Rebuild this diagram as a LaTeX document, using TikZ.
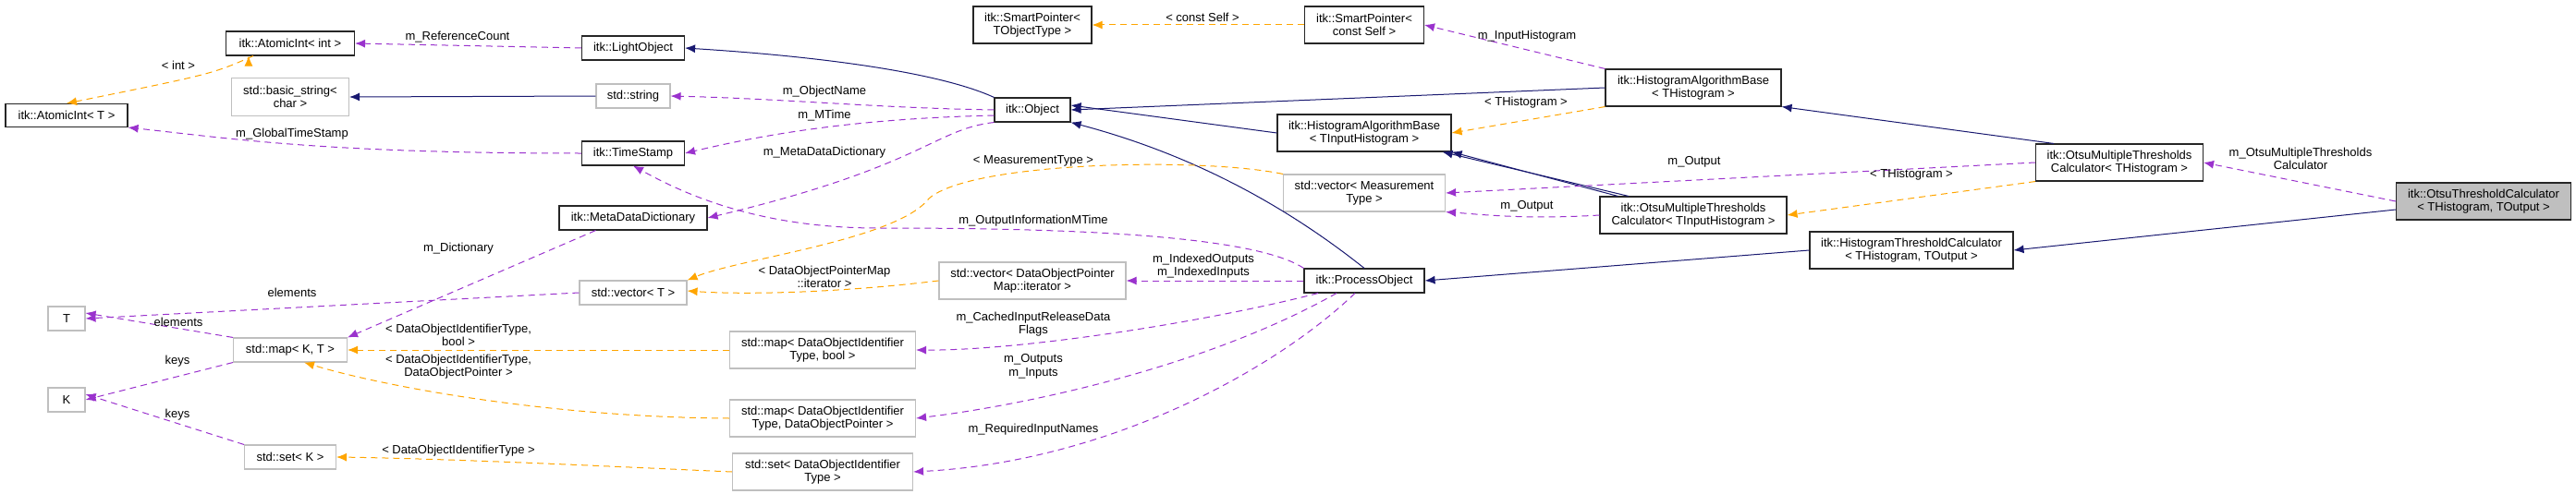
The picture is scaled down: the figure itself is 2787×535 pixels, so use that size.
\documentclass[tikz,border=0pt]{standalone}
\usepackage{fontspec}
\setmainfont{Liberation Sans}
\usetikzlibrary{arrows.meta}
\definecolor{inhc}{HTML}{191970}
\definecolor{usec}{HTML}{9A32CD}
\definecolor{tplc}{HTML}{FFA500}
\definecolor{grayb}{HTML}{BFBFBF}
\begin{document}
\begin{tikzpicture}[x=1pt,y=-1pt,
  font=\fontsize{13}{14.5}\selectfont,
  box/.style={draw=black!85,line width=1.1pt,fill=white,align=center,inner sep=0pt},
  sbox/.style={draw=grayb,line width=1.1pt,fill=white,align=center,inner sep=0pt},
  inh/.style={draw=inhc,line width=1pt,-{Latex[length=11pt,width=9pt]}},
  use/.style={draw=usec,line width=1pt,dash pattern=on 7pt off 5pt,-{Latex[length=11pt,width=9pt]}},
  tpl/.style={draw=tplc,line width=1pt,dash pattern=on 7pt off 5pt,-{Latex[length=11pt,width=9pt]}},
  lbl/.style={align=center,fill=none,inner sep=1pt}]
\useasboundingbox (0,0) rectangle (2787,535);
% nodes
\node[box,minimum width=132,minimum height=25] (ait) at (72,125) {itk::AtomicInt< T >};
\node[box,minimum width=139,minimum height=26] (aii) at (314,47) {itk::AtomicInt< int >};
\node[sbox,minimum width=127,minimum height=41] (bs) at (314,105) {std::basic\_string<\\char >};
\node[sbox,minimum width=40,minimum height=26] (T) at (72,345) {T};
\node[sbox,minimum width=40,minimum height=26] (K) at (72,433) {K};
\node[sbox,minimum width=123,minimum height=26] (map) at (314,379) {std::map< K, T >};
\node[sbox,minimum width=99,minimum height=26] (set) at (314,495) {std::set< K >};
\node[box,minimum width=111,minimum height=26] (lo) at (685,52) {itk::LightObject};
\node[sbox,minimum width=80,minimum height=26] (str) at (685,104) {std::string};
\node[box,minimum width=111,minimum height=26] (ts) at (685,166) {itk::TimeStamp};
\node[box,minimum width=160,minimum height=26] (mdd) at (685,236) {itk::MetaDataDictionary};
\node[sbox,minimum width=116,minimum height=26] (vt) at (685,317) {std::vector< T >};
\node[sbox,minimum width=201,minimum height=40] (mdb) at (890,379) {std::map< DataObjectIdentifier\\Type, bool >};
\node[sbox,minimum width=201,minimum height=40] (mdp) at (890,453) {std::map< DataObjectIdentifier\\Type, DataObjectPointer >};
\node[sbox,minimum width=195,minimum height=40] (sd) at (890,511) {std::set< DataObjectIdentifier\\Type >};
\node[box,minimum width=128,minimum height=40] (spt) at (1117,27) {itk::SmartPointer<\\TObjectType >};
\node[box,minimum width=82,minimum height=26] (obj) at (1117,119) {itk::Object};
\node[sbox,minimum width=202,minimum height=40] (vdi) at (1117,304) {std::vector< DataObjectPointer\\Map::iterator >};
\node[box,minimum width=129,minimum height=40] (sps) at (1476,27) {itk::SmartPointer<\\const Self >};
\node[box,minimum width=188,minimum height=40] (habi) at (1476,144) {itk::HistogramAlgorithmBase\\< TInputHistogram >};
\node[sbox,minimum width=175,minimum height=40] (vm) at (1476,209) {std::vector< Measurement\\Type >};
\node[box,minimum width=130,minimum height=26] (po) at (1476,304) {itk::ProcessObject};
\node[box,minimum width=190,minimum height=40] (habh) at (1832,95) {itk::HistogramAlgorithmBase\\< THistogram >};
\node[box,minimum width=202,minimum height=40] (omti) at (1832,233) {itk::OtsuMultipleThresholds\\Calculator< TInputHistogram >};
\node[box,minimum width=220,minimum height=40] (htc) at (2068,271) {itk::HistogramThresholdCalculator\\< THistogram, TOutput >};
\node[box,minimum width=181,minimum height=40] (omth) at (2293,176) {itk::OtsuMultipleThresholds\\Calculator< THistogram >};
\node[box,fill=grayb,minimum width=189,minimum height=40] (otc) at (2687,218) {itk::OtsuThresholdCalculator\\< THistogram, TOutput >};
% edges
\draw[use] (lo.west) -- (aii.east);
\node[lbl] at (495,40) {m\_ReferenceCount};
\draw[tpl] (aii.south west) ++(25,0) coordinate (a1);
\draw[tpl] (aii.south) ++(-40,0) .. controls (230,80) .. (ait.north);
\node[lbl] at (193,71) {< int >};
\draw[inh] (str.west) -- (bs.east);
\draw[use] (ts.west) .. controls (350,166) and (250,150) .. (ait.south east);
\node[lbl] at (316,145) {m\_GlobalTimeStamp};
\draw[inh] (obj.north west) .. controls (1020,80) and (900,62) .. (lo.east);
\draw[use] (obj.west) .. controls (950,117) and (850,107) .. (str.east);
\node[lbl] at (892,99) {m\_ObjectName};
\draw[use] (obj.west) ++(0,6) .. controls (950,128) and (850,140) .. (ts.east);
\node[lbl] at (892,125) {m\_MTime};
\draw[use] (obj.south west) .. controls (1010,140) and (1000,180) .. (mdd.east);
\node[lbl] at (892,165) {m\_MetaDataDictionary};
\draw[inh] (habh.west) -- (obj.east);
\draw[inh] (habi.west) -- ([yshift=5]obj.east);
\draw[inh] (po.north) .. controls (1400,230) and (1300,170) .. (obj.south east);
\draw[tpl] (sps.west) -- (spt.east);
\node[lbl] at (1301,19) {< const Self >};
\draw[use] (habh.north west) -- (sps.east);
\node[lbl] at (1652,39) {m\_InputHistogram};
\draw[tpl] (habh.south west) -- (habi.east);
\node[lbl] at (1651,111) {< THistogram >};
\draw[inh] (omti.north west) ++(20,0) -- (habi.south east);
\draw[inh] (omti.north) ++(-70,0) -- ([xshift=-10]habi.south east);
\draw[use] (omti.west) .. controls (1650,238) and (1600,232) .. (vm.south east);
\node[lbl] at (1652,223) {m\_Output};
\draw[use] (omth.west) -- ([yshift=0]vm.east);
\node[lbl] at (1833,175) {m\_Output};
\draw[tpl] (omth.south west) -- (omti.east);
\node[lbl] at (2068,189) {< THistogram >};
\draw[inh] (omth.north west) ++(20,0) -- (habh.south east);
\draw[use] (otc.west) -- (omth.east);
\node[lbl] at (2489,172) {m\_OtsuMultipleThresholds\\Calculator};
\draw[inh] (otc.west) ++(0,9) -- (htc.east);
\draw[inh] (htc.west) -- (po.east);
\draw[tpl] (vm.north west) .. controls (1300,170) and (1050,175) .. (1005,215) .. controls (970,260) and (800,280) .. (vt.north east);
\node[lbl] at (1118,174) {< MeasurementType >};
\draw[use] (po.north west) .. controls (1350,250) and (1100,247) .. (950,247) .. controls (820,247) and (740,210) .. (ts.south);
\node[lbl] at (1118,239) {m\_OutputInformationMTime};
\draw[use] (mdd.south west) ++(40,0) -- (map.north east);
\node[lbl] at (496,269) {m\_Dictionary};
\draw[use] (vt.west) -- (T.east);
\node[lbl] at (316,317) {elements};
\draw[use] (map.north west) -- ([yshift=6]T.east);
\node[lbl] at (193,349) {elements};
\draw[use] (map.south west) -- (K.east);
\node[lbl] at (192,391) {keys};
\draw[use] (set.north west) -- ([yshift=6]K.east);
\node[lbl] at (192,449) {keys};
\draw[tpl] (vdi.west) .. controls (900,318) and (800,319) .. ([yshift=2]vt.east);
\node[lbl] at (892,300) {< DataObjectPointerMap\\::iterator >};
\draw[use] (po.west) -- (vdi.east);
\node[lbl] at (1302,288) {m\_IndexedOutputs\\m\_IndexedInputs};
\draw[tpl] (mdb.west) -- (map.east);
\node[lbl] at (496,363) {< DataObjectIdentifierType,\\bool >};
\draw[tpl] (mdp.west) .. controls (600,452) and (420,420) .. ([xshift=15]map.south);
\node[lbl] at (496,397) {< DataObjectIdentifierType,\\DataObjectPointer >};
\draw[tpl] (sd.west) .. controls (700,507) and (500,497) .. (set.east);
\node[lbl] at (496,488) {< DataObjectIdentifierType >};
\draw[use] ([xshift=-50]po.south) .. controls (1300,350) and (1100,380) .. (mdb.east);
\node[lbl] at (1118,351) {m\_CachedInputReleaseData\\Flags};
\draw[use] ([xshift=-30]po.south) .. controls (1300,400) and (1100,440) .. (mdp.east);
\node[lbl] at (1118,397) {m\_Outputs\\m\_Inputs};
\draw[use] ([xshift=-10]po.south) .. controls (1380,400) and (1200,500) .. (sd.east);
\node[lbl] at (1118,465) {m\_RequiredInputNames};
\end{tikzpicture}
\end{document}
